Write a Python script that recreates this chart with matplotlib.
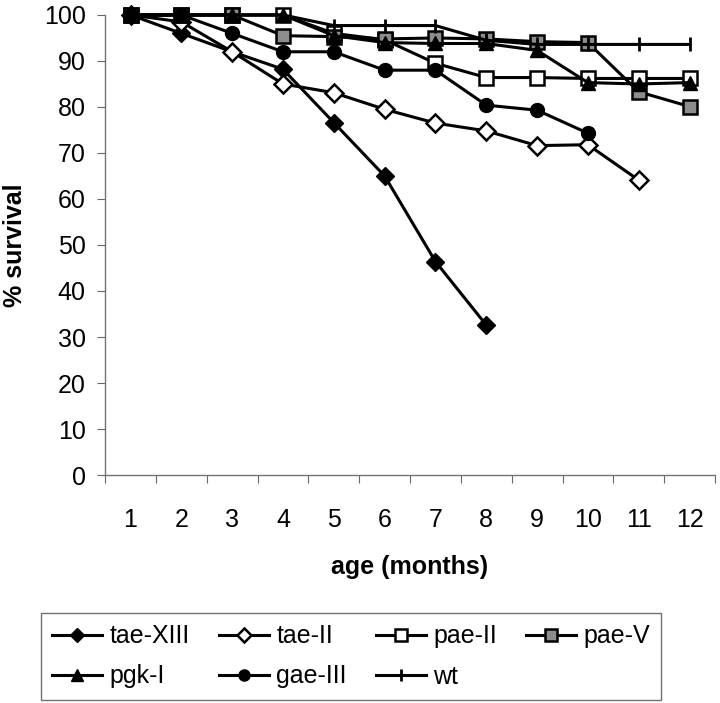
import matplotlib.pyplot as plt
import numpy as np

months = list(range(1, 13))
tae_xiii = [100, 96, 92, 88.2, 76.6, 65, 46.4, 32.6]
tae_ii = [100, 98.5, 92, 85, 83.1, 79.5, 76.5, 74.8, 71.6, 71.8, 64.1]
pae_ii = [100, 100, 100, 100, 96, 94.6, 89.5, 86.4, 86.4, 86.2, 86.2, 86.2]
pae_v = [100, 100, 100, 95.5, 95.3, 94.8, 95, 94.8, 94.2, 94, 83.3, 80.1]
pgk_i = [100, 100, 100, 100, 95.5, 94, 93.8, 93.8, 92.3, 85.3, 85, 85.3]
gae_iii = [100, 100, 96, 92, 92, 88, 88, 80.4, 79.3, 74.3]
wt = [100, 100, 100, 100, 97.7, 97.7, 97.7, 94.5, 93.6, 93.6, 93.6, 93.6]

plt.rcParams['font.family'] = ['Liberation Sans', 'DejaVu Sans']

fig = plt.figure(figsize=(7.2, 7.03), dpi=100)
ax = fig.add_axes([0.146, 0.3243, 0.847, 0.6544])

lw = 2.2
ms = 10
series = [
    ('tae-XIII', tae_xiii, dict(marker='D', mfc='black', mec='black', ms=ms * 0.9)),
    ('tae-II', tae_ii, dict(marker='D', mfc='white', mec='black', mew=1.8, ms=ms * 0.9)),
    ('pae-II', pae_ii, dict(marker='s', mfc='white', mec='black', mew=1.8, ms=ms)),
    ('pae-V', pae_v, dict(marker='s', mfc='0.55', mec='black', mew=1.8, ms=ms)),
    ('pgk-I', pgk_i, dict(marker='^', mfc='black', mec='black', ms=ms)),
    ('gae-III', gae_iii, dict(marker='o', mfc='black', mec='black', ms=ms)),
    ('wt', wt, dict(marker='|', mec='black', mew=2, ms=ms * 1.05)),
]
handles = []
for name, vals, style in series:
    x = months[:len(vals)]
    h, = ax.plot(x, vals, color='black', lw=lw, label=name, clip_on=False, **style)
    handles.append(h)

ax.set_xlim(0.5, 12.5)
ax.set_ylim(0, 100)
ax.set_yticks(np.arange(0, 101, 10))
ax.set_xticks(np.arange(0.5, 12.6, 1))
ax.set_xticklabels([])
ax.set_xticks(months, minor=True)
ax.set_xticklabels([str(m) for m in months], minor=True)
ax.tick_params(axis='x', which='minor', length=0, pad=24, labelsize=18)
ax.tick_params(axis='x', which='major', length=6, direction='out', color='0.4')
ax.tick_params(axis='y', length=6, direction='out', color='0.4', labelsize=18, pad=8)

for s in ['top', 'right']:
    ax.spines[s].set_visible(False)
for s in ['left', 'bottom']:
    ax.spines[s].set_color('0.45')
    ax.spines[s].set_linewidth(1)

ax.set_xlabel('age (months)', fontsize=18, fontweight='bold', labelpad=16)
ax.set_ylabel('% survival', fontsize=18, fontweight='bold', labelpad=12)

# legend filled column-wise, so interleave to get the row order of the original
order = [0, 4, 1, 5, 2, 6, 3]
leg = fig.legend([handles[i] for i in order], [series[i][0] for i in order],
                 ncol=4, loc='upper left', bbox_to_anchor=(41 / 720, 1 - 613 / 703),
                 borderaxespad=0, fontsize=18, frameon=True, fancybox=False,
                 edgecolor='0.3', handlelength=2.0, handletextpad=0.3,
                 columnspacing=1.15, labelspacing=0.65, borderpad=0.45,
                 markerscale=0.8)
leg.get_frame().set_linewidth(1)

fig.savefig('out.png', dpi=100)
